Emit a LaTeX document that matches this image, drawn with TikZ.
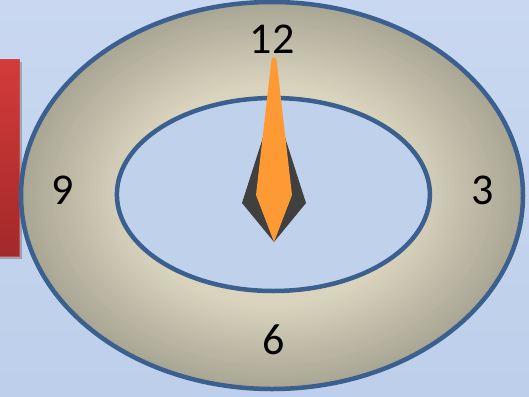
\documentclass[tikz,border=0pt]{standalone}
\usepackage{fontspec}
\setmainfont{Carlito}
\definecolor{bgtop}{HTML}{C9D8F0}
\definecolor{bgbot}{HTML}{BDCFEA}
\definecolor{ringlight}{HTML}{DCD6C0}
\definecolor{ringdark}{HTML}{A9A694}
\definecolor{rimblue}{HTML}{3B5F8F}
\definecolor{innerfill}{HTML}{C0D1EC}
\definecolor{handorange}{HTML}{FD9A33}
\definecolor{handdark}{HTML}{404040}
\definecolor{redtop}{HTML}{D33B39}
\definecolor{redbot}{HTML}{A3292A}
\definecolor{redrim}{HTML}{C84A48}
\tikzset{
  rim/.style={draw=rimblue, line width=4.5pt},
  numlabel/.style={font=\fontsize{44}{44}\selectfont, text=black, inner sep=0pt},
}
\begin{document}
\begin{tikzpicture}[x=1pt,y=-1pt]
  \useasboundingbox (0,0) rectangle (529,396);
  \fill[top color=bgtop, bottom color=bgbot] (0,0) rectangle (529,396);
  % red bar at the left
  \fill[black, opacity=0.22] (0,62) rectangle (22,259);
  \draw[redrim, line width=1pt, top color=redtop, bottom color=redbot] (-2,59) rectangle (19,256);
  % outer ring, shaded from the rim inwards
  \foreach \i in {0,...,24} {
    \pgfmathsetmacro{\s}{1-\i*0.018}
    \pgfmathsetmacro{\m}{\i*4}
    \fill[ringlight!\m!ringdark] (272,195.5) ellipse [x radius=251*\s, y radius=193.5*\s];
  }
  \draw[rim] (272,195.5) ellipse [x radius=251, y radius=193.5];
  % inner ellipse
  \path[rim, fill=innerfill] (273.4,194.5) ellipse [x radius=156.5, y radius=96.5];
  % numbers
  \node[numlabel] (n12) at (272,39) {12};
  \node[numlabel] (n3) at (483,190) {3};
  \node[numlabel] (n6) at (274,340) {6};
  \node[numlabel] (n9) at (63,190) {9};
  % hands
  \fill[handdark] (274,103) -- (242,203) -- (274,242) -- (306,203) -- cycle;
  \fill[handorange] (271.5,60) -- (256,195) -- (274,242) -- (292,195) -- (276.5,60)
     arc[start angle=0, end angle=-180, radius=2.5] -- cycle;
\end{tikzpicture}
\end{document}
